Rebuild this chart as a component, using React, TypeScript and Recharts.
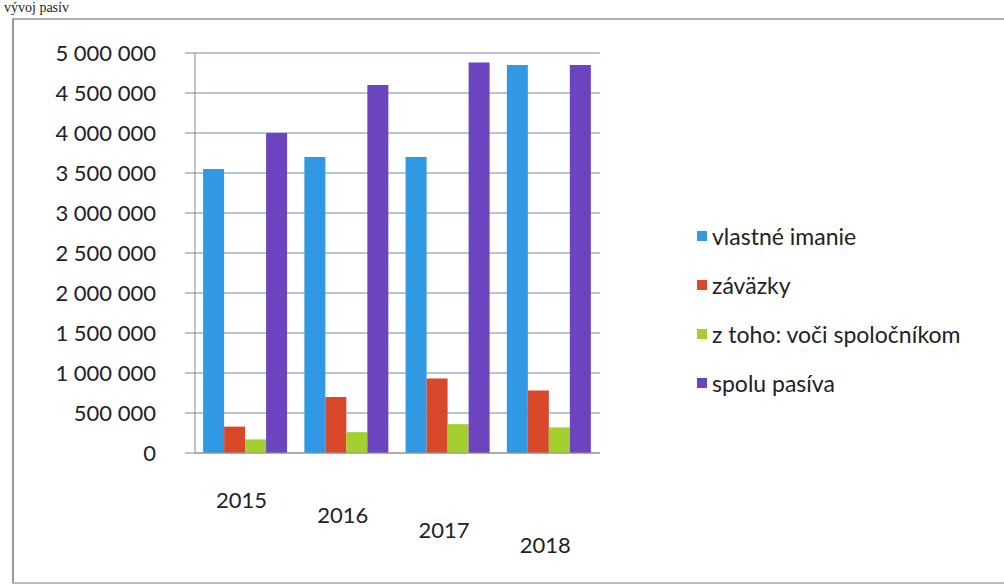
import { BarChart, Bar, XAxis, YAxis, CartesianGrid } from "recharts";

const YEARS = ["2015", "2016", "2017", "2018"];
const VLASTNE_IMANIE = [3550000, 3700000, 3700000, 4850000];
const ZAVAZKY = [330000, 700000, 930000, 780000];
const VOCI_SPOLOCNIKOM = [170000, 260000, 360000, 320000];
const SPOLU_PASIVA = [4000000, 4600000, 4880000, 4850000];
const Y_TICKS = [0, 500000, 1000000, 1500000, 2000000, 2500000, 3000000, 3500000, 4000000, 4500000, 5000000];

const SERIES = [
  { key: "imanie", name: "vlastné imanie", color: "#3199e4" },
  { key: "zavazky", name: "záväzky", color: "#d8492b" },
  { key: "spolocnici", name: "z toho: voči spoločníkom", color: "#a3cf2f" },
  { key: "pasiva", name: "spolu pasíva", color: "#6d44bf" },
];

const data = YEARS.map((year, i) => ({
  year,
  imanie: VLASTNE_IMANIE[i],
  zavazky: ZAVAZKY[i],
  spolocnici: VOCI_SPOLOCNIKOM[i],
  pasiva: SPOLU_PASIVA[i],
}));

const FONT = "Lato, 'Open Sans', sans-serif";

// thousands with a space, as in the Slovak original
const fmt = (v: number) => v.toLocaleString("sk-SK").replace(/\u00a0/g, " ");

function YearTick(props: any) {
  const { x, y, payload, index } = props;
  // the original is a tilted 3D chart, so each year label sits a bit lower
  return (
    <text x={x - 4} y={y + index * 15} dy={45} textAnchor="middle" fontSize={22} fill="#222" fontFamily={FONT}>
      {payload.value}
    </text>
  );
}

export default function App() {
  return (
    <div style={{ position: "absolute", left: 0, top: 0, width: 1004, height: 588, background: "#fff", overflow: "hidden" }}>
      <div style={{ position: "absolute", left: 4, top: 0, fontFamily: "serif", fontSize: 14, lineHeight: "16px", color: "#222" }}>
        vývoj pasív
      </div>
      <div
        style={{
          position: "absolute",
          left: 12,
          top: 18,
          width: 1010,
          height: 562,
          borderLeft: "2px solid #9a9a9a",
          borderTop: "2px solid #a8b0bc",
          borderBottom: "2px solid #b5bcc6",
        }}
      />
      <div style={{ position: "absolute", left: 0, top: 0 }}>
        <BarChart
          width={640}
          height={560}
          data={data}
          margin={{ top: 53, right: 40, bottom: 47, left: 0 }}
          barCategoryGap="8%"
          barGap={0}
        >
          <CartesianGrid vertical={false} stroke="#9fb0cc" strokeWidth={1.5} />
          <XAxis
            dataKey="year"
            tick={<YearTick />}
            tickLine={false}
            axisLine={{ stroke: "#999" }}
            tickSize={8}
            interval={0}
            height={60}
          />
          <YAxis
            domain={[0, 5000000]}
            ticks={Y_TICKS}
            tickFormatter={fmt}
            width={195}
            tickSize={10}
            tickMargin={29}
            axisLine={{ stroke: "#888" }}
            tickLine={{ stroke: "#888" }}
            tick={{ fontSize: 22, fill: "#222", fontFamily: FONT }}
          />
          {SERIES.map((s) => (
            <Bar key={s.key} dataKey={s.key} name={s.name} fill={s.color} isAnimationActive={false} />
          ))}
        </BarChart>
      </div>
      <div style={{ position: "absolute", left: 697, top: 211, fontFamily: FONT, fontSize: 23, color: "#222" }}>
        {SERIES.map((s) => (
          <div key={s.key} style={{ display: "flex", alignItems: "center", height: 49 }}>
            <span style={{ width: 10, height: 10, background: s.color, marginRight: 5 }} />
            <span>{s.name}</span>
          </div>
        ))}
      </div>
    </div>
  );
}
